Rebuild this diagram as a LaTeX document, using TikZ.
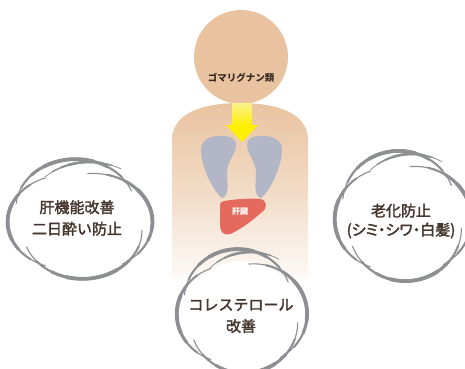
\documentclass[tikz,border=0pt]{standalone}
\usepackage{fontspec}
\newfontfamily\jpfont{Noto Sans CJK JP}
\newfontfamily\jpmed[FakeBold=2.2]{Noto Sans CJK JP}
\usetikzlibrary{calc}

\definecolor{skin}{HTML}{E9C3A0}
\definecolor{lunggray}{HTML}{B2B6C6}
\definecolor{liverred}{HTML}{E46A5E}
\definecolor{cloudgray}{HTML}{8E8F93}
\definecolor{textbrown}{HTML}{45352C}
\definecolor{arrowyellow}{HTML}{FFEF00}

% tapered arc: center, radius, start angle, end angle, max width
\newcommand{\swirl}[5]{%
  \foreach \t/\lw in {0/0.3,0.12/0.55,0.24/0.8,0.34/1}{%
    \pgfmathsetmacro\sa{#3+\t*(#4-#3)}%
    \pgfmathsetmacro\ea{#4-\t*(#4-#3)}%
    \draw[cloudline, line width=\lw*#5] ($(#1)+(\sa:#2)$) arc[start angle=\sa, end angle=\ea, radius=#2];
  }%
}
% one cloud ring around the origin of the current scope
\newcommand{\cloudring}{%
  \fill[white] (0,0) circle[radius=0.85];
  \swirl{-0.05,-0.2}{0.85}{185}{340}{3.8pt}
  \swirl{0.2,0.05}{0.85}{265}{420}{3.8pt}
  \swirl{0.05,0.2}{0.85}{0}{160}{3.8pt}
  \swirl{-0.2,0.05}{0.82}{110}{250}{3.8pt}
  \swirl{0.15,-0.1}{0.9}{225}{300}{2.6pt}
}

\begin{document}
\begin{tikzpicture}[
    x=1pt, y=-1pt,
    cloudline/.style={draw=cloudgray, line cap=round},
    organ/.style={line join=round},
    cloudtext/.style={font=\jpmed\fontsize{15}{21.5}\selectfont, text=textbrown, align=center, inner sep=0pt}
]
    \useasboundingbox (0,0) rectangle (465,368);

    % body and head
    \path[top color=skin, bottom color=skin!8, middle color=skin!60]
        (172,278) -- (172,140) .. controls (172,112) and (205,103) .. (240,103)
        .. controls (275,103) and (308,112) .. (308,140) -- (308,278) -- cycle;
    \fill[skin] (241,57) circle[radius=47];
    \node[font=\jpfont\bfseries\fontsize{9.5}{11}\selectfont, text=textbrown!80!black] (lignan) at (241,78) {ゴマリグナン類};

    % arrow into the body
    \path[top color=skin!40!yellow!60!white, bottom color=arrowyellow] (232,103) rectangle (252,126);
    \fill[arrowyellow] (226,125) -- (258,125) -- (242,142) -- cycle;

    % lungs
    \fill[lunggray, organ] (222,198) .. controls (212,190) and (201,165) .. (201,150)
        .. controls (201,139) and (212,135) .. (222,136) .. controls (232,136) and (237,140) .. (236,146)
        .. controls (235,155) and (227,162) .. (227,172) .. controls (227,183) and (230,196) .. (222,198) -- cycle;
    \begin{scope}[shift={(483,0)}, xscale=-1]
    \fill[lunggray, organ] (222,198) .. controls (212,190) and (201,165) .. (201,150)
        .. controls (201,139) and (212,135) .. (222,136) .. controls (232,136) and (237,140) .. (236,146)
        .. controls (235,155) and (227,162) .. (227,172) .. controls (227,183) and (230,196) .. (222,198) -- cycle;
    \end{scope}

    % liver
    \fill[liverred, organ] (224,201) .. controls (236,199) and (252,198) .. (260,199)
        .. controls (267,200) and (268,208) .. (262,212) .. controls (253,220) and (240,230) .. (230,234)
        .. controls (224,236) and (220,232) .. (220,225) -- (220,207)
        .. controls (220,203) and (221,201) .. (224,201) -- cycle;
    \node[font=\jpfont\bfseries\fontsize{8}{9}\selectfont, text=white] (liver) at (240,211) {肝臓};

    % clouds
    \begin{scope}[shift={(79,219)}, xscale=70, yscale=57]
        \cloudring
    \end{scope}
    \begin{scope}[shift={(402,216)}, xscale=66, yscale=62]
        \cloudring
    \end{scope}
    \begin{scope}[shift={(241,311)}, xscale=63, yscale=59]
        \cloudring
    \end{scope}

    \node[cloudtext] (hepatic) at (77,218) {肝機能改善\\二日酔い防止};
    \node[cloudtext, font=\jpmed\fontsize{15}{19}\selectfont] (aging) at (401,221)
        {老化防止\\{\addfontfeature{RawFeature=+palt}(シミ・シワ・白髪)}};
    \node[cloudtext] (cholesterol) at (241,316) {コレステロール\\改善};
\end{tikzpicture}
\end{document}
